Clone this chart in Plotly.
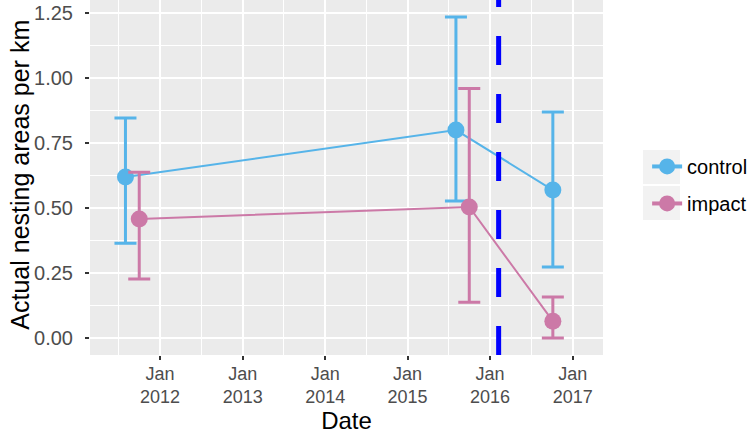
import plotly.graph_objects as go

# data
GROUPS = ["control", "impact"]
CONTROL_DATES = ["2011-08-01", "2015-08-03", "2016-10-05"]
CONTROL_MEAN = [0.619, 0.800, 0.569]
CONTROL_LOW = [0.365, 0.527, 0.273]
CONTROL_HIGH = [0.846, 1.235, 0.869]

IMPACT_DATES = ["2011-10-01", "2015-10-01", "2016-10-05"]
IMPACT_MEAN = [0.458, 0.504, 0.065]
IMPACT_LOW = [0.227, 0.138, 0.0]
IMPACT_HIGH = [0.638, 0.960, 0.158]

EVENT_DATE = "2016-02-08"

X_TICK_DATES = ["2012-01-01", "2013-01-01", "2014-01-01", "2015-01-01", "2016-01-01", "2017-01-01"]
X_TICK_LABELS = ["Jan<br>2012", "Jan<br>2013", "Jan<br>2014", "Jan<br>2015", "Jan<br>2016", "Jan<br>2017"]
X_MINOR_DATES = ["2011-07-02", "2012-07-02", "2013-07-02", "2014-07-02", "2015-07-02", "2016-07-02"]
Y_TICKS = [0.0, 0.25, 0.5, 0.75, 1.0, 1.25]
Y_TICK_LABELS = ["0.00", "0.25", "0.50", "0.75", "1.00", "1.25"]

COLORS = {"control": "#56B4E9", "impact": "#CC79A7"}
FONT = "Liberation Sans, Arial, Helvetica, sans-serif"

series = {
    "control": (CONTROL_DATES, CONTROL_MEAN, CONTROL_LOW, CONTROL_HIGH),
    "impact": (IMPACT_DATES, IMPACT_MEAN, IMPACT_LOW, IMPACT_HIGH),
}

fig = go.Figure()
for group in GROUPS:
    dates, mean, low, high = series[group]
    fig.add_trace(
        go.Scatter(
            x=dates,
            y=mean,
            mode="lines+markers",
            name=group,
            showlegend=False,
            line={"color": COLORS[group], "width": 2},
            marker={"color": COLORS[group], "size": 17},
            error_y={
                "type": "data",
                "symmetric": False,
                "array": [h - m for h, m in zip(high, mean)],
                "arrayminus": [m - l for m, l in zip(mean, low)],
                "color": COLORS[group],
                "thickness": 3,
                "width": 11,
            },
        )
    )
    # legend entry with a thicker key line, like ggplot's
    fig.add_trace(
        go.Scatter(
            x=[None],
            y=[None],
            mode="lines+markers",
            name=group,
            legendgroup=group,
            line={"color": COLORS[group], "width": 4},
            marker={"color": COLORS[group], "size": 16},
        )
    )

fig.add_shape(
    type="line",
    xref="x",
    yref="y domain",
    x0=EVENT_DATE,
    x1=EVENT_DATE,
    y0=0,
    y1=1,
    line={"color": "#0000FF", "width": 5, "dash": "29px,29px"},
    layer="above",
)

# grey legend key backgrounds
for top, bottom in [(150, 184), (186, 220)]:
    fig.add_shape(
        type="rect",
        xref="paper",
        yref="paper",
        x0=(643 - 90) / 513,
        x1=(680 - 90) / 513,
        y0=(355 - bottom) / 355,
        y1=(355 - top) / 355,
        fillcolor="#F2F2F2",
        line={"width": 0},
        layer="below",
    )

# y axis title placed by hand so it sits close to the tick labels
fig.add_annotation(
    text="Actual nesting areas per km",
    xref="paper",
    yref="paper",
    x=(20 - 90) / 513,
    y=0.508,
    xanchor="center",
    yanchor="middle",
    textangle=-90,
    showarrow=False,
    font={"size": 25, "color": "black"},
)

fig.update_layout(
    width=748,
    height=434,
    margin={"l": 90, "r": 145, "t": 0, "b": 79, "autoexpand": False},
    paper_bgcolor="white",
    plot_bgcolor="#EBEBEB",
    font={"family": FONT, "color": "black"},
    legend={
        "x": 1.086,
        "y": 0.479,
        "xanchor": "left",
        "yanchor": "middle",
        "font": {"size": 20, "color": "black"},
        "bgcolor": "rgba(0,0,0,0)",
        "traceorder": "grouped",
        "tracegroupgap": 8,
    },
    showlegend=True,
)

fig.update_xaxes(
    range=["2011-02-25", "2017-05-15"],
    tickvals=X_TICK_DATES,
    ticktext=X_TICK_LABELS,
    ticks="outside",
    ticklen=4,
    tickwidth=1.5,
    tickcolor="#333333",
    tickfont={"size": 18, "color": "#4D4D4D"},
    ticklabelstandoff=-2,
    showgrid=True,
    gridcolor="white",
    gridwidth=1.6,
    minor={"tickvals": X_MINOR_DATES, "showgrid": True, "gridcolor": "white", "gridwidth": 0.8},
    zeroline=False,
    showline=False,
    automargin=False,
    title={"text": "Date", "font": {"size": 24, "color": "black"}, "standoff": 6},
)

fig.update_yaxes(
    range=[-0.065, 1.30],
    tickvals=Y_TICKS,
    ticktext=Y_TICK_LABELS,
    ticks="outside",
    ticklen=4,
    tickwidth=1.5,
    tickcolor="#333333",
    tickfont={"size": 20, "color": "#4D4D4D"},
    ticklabelstandoff=8,
    showgrid=True,
    gridcolor="white",
    gridwidth=1.6,
    minor={"dtick": 0.25, "tick0": 0.125, "showgrid": True, "gridcolor": "white", "gridwidth": 0.8},
    zeroline=False,
    showline=False,
    automargin=False,
)

# the page body has a default 8px margin; drop it so the figure fills the window
fig.write_html(
    "out.html",
    config={"displayModeBar": False},
    post_script="document.body.style.margin = '0';",
)
